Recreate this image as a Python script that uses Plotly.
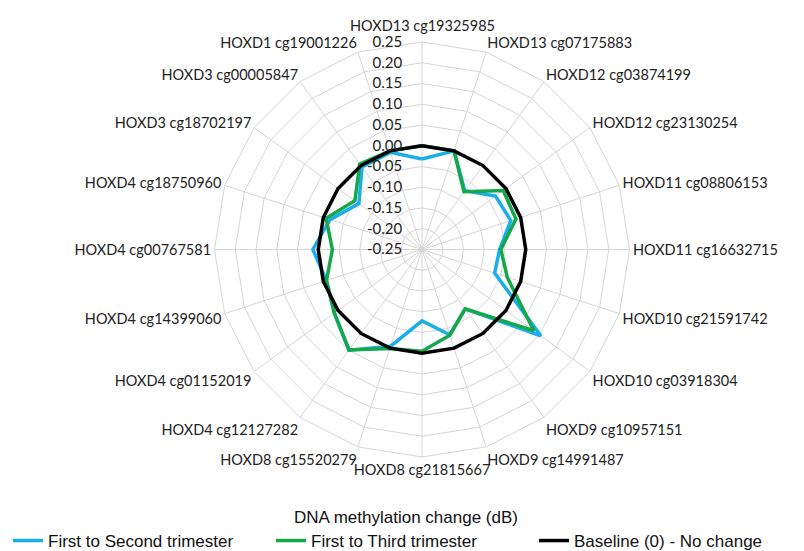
import plotly.graph_objects as go

categories = [
    "HOXD13 cg19325985", "HOXD13 cg07175883", "HOXD12 cg03874199", "HOXD12 cg23130254",
    "HOXD11 cg08806153", "HOXD11 cg16632715", "HOXD10 cg21591742", "HOXD10 cg03918304",
    "HOXD9 cg10957151", "HOXD9 cg14991487", "HOXD8 cg21815667", "HOXD8 cg15520279",
    "HOXD4 cg12127282", "HOXD4 cg01152019", "HOXD4 cg14399060", "HOXD4 cg00767581",
    "HOXD4 cg18750960", "HOXD3 cg18702197", "HOXD3 cg00005847", "HOXD1 cg19001226",
]
first_to_second = [-0.032, 0.0, -0.075, -0.031, -0.025, -0.063, -0.066, 0.104, -0.073, -0.034,
                   -0.078, -0.005, 0.050, 0.011, -0.008, 0.013, -0.017, -0.062, -0.004, -0.004]
first_to_third = [0.0, 0.0, -0.078, -0.008, -0.012, -0.060, -0.034, 0.083, -0.073, -0.033,
                  -0.005, 0.001, 0.049, 0.011, -0.008, -0.034, -0.007, -0.050, 0.005, 0.0]
baseline = [0.0] * len(categories)
radial_ticks = [-0.25, -0.20, -0.15, -0.10, -0.05, 0.00, 0.05, 0.10, 0.15, 0.20, 0.25]
radial_ticktext = ["-0.25", "-0.20", "-0.15", "-0.10", "-0.05", "0.00", "0.05", "0.10", "0.15", "0.20", "0.25"]

def closed(v):
    return list(v) + [v[0]]

theta = closed(categories)
# the top category label sits above the radial tick labels, so it is written as a separate text
angular_ticktext = ["" if i == 0 else c for i, c in enumerate(categories)]

fig = go.Figure()
fig.add_trace(go.Scatterpolar(r=closed(first_to_second), theta=theta, mode="lines",
                              name="First to Second trimester",
                              line=dict(color="#1AAEEA", width=3.5)))
fig.add_trace(go.Scatterpolar(r=closed(first_to_third), theta=theta, mode="lines",
                              name="First to Third trimester",
                              line=dict(color="#14A84A", width=3.5)))
fig.add_trace(go.Scatterpolar(r=closed(baseline), theta=theta, mode="lines",
                              name="Baseline (0) - No change",
                              line=dict(color="#000000", width=3.5)))

legend_font = dict(size=17, family="Liberation Sans, Arial, sans-serif", color="#111")
label_font = dict(size=14.5, family="Lato, Carlito, sans-serif", color="#222")

dom_x = [206.5/804, 621.5/804]
dom_y = [102/551, 517/551]

fig.update_layout(
    width=804, height=551,
    margin=dict(l=0, r=0, t=0, b=0),
    paper_bgcolor="white",
    font=dict(family="Lato, Carlito, Calibri, sans-serif", color="#222"),
    polar=dict(
        domain=dict(x=dom_x, y=dom_y),
        bgcolor="white",
        gridshape="linear",
        radialaxis=dict(
            range=[-0.25, 0.25], tickvals=radial_ticks, ticktext=radial_ticktext,
            angle=90, tickangle=90, side="counterclockwise",
            showline=False, gridcolor="#D6D6D6", gridwidth=1,
            ticks="outside", ticklen=14, tickcolor="rgba(0,0,0,0)",
            tickfont=dict(size=15, family="Lato, Carlito, sans-serif", color="#222"),
        ),
        angularaxis=dict(
            direction="clockwise", rotation=90,
            categoryorder="array", categoryarray=categories,
            tickmode="array", tickvals=categories, ticktext=angular_ticktext,
            showline=True, linecolor="#D6D6D6", linewidth=1,
            gridcolor="#D6D6D6", gridwidth=1, ticks="",
            tickfont=label_font,
        ),
    ),
    showlegend=True,
    legend=dict(
        orientation="h", x=0.0, xanchor="left", y=0.0, yanchor="bottom",
        font=legend_font,
        entrywidth=218, entrywidthmode="pixels", itemwidth=30,
        bgcolor="rgba(0,0,0,0)",
    ),
    annotations=[
        dict(text="DNA methylation change (dB)", x=398/804, xref="paper", y=1 - 509/551, yref="paper",
             yanchor="middle", showarrow=False, font=legend_font),
        dict(text=categories[0], x=(dom_x[0] + dom_x[1]) / 2, xref="paper", y=1 - 18/551, yref="paper",
             xanchor="center", yanchor="middle", showarrow=False, font=label_font),
    ],
)

fig.write_html("out.html")
